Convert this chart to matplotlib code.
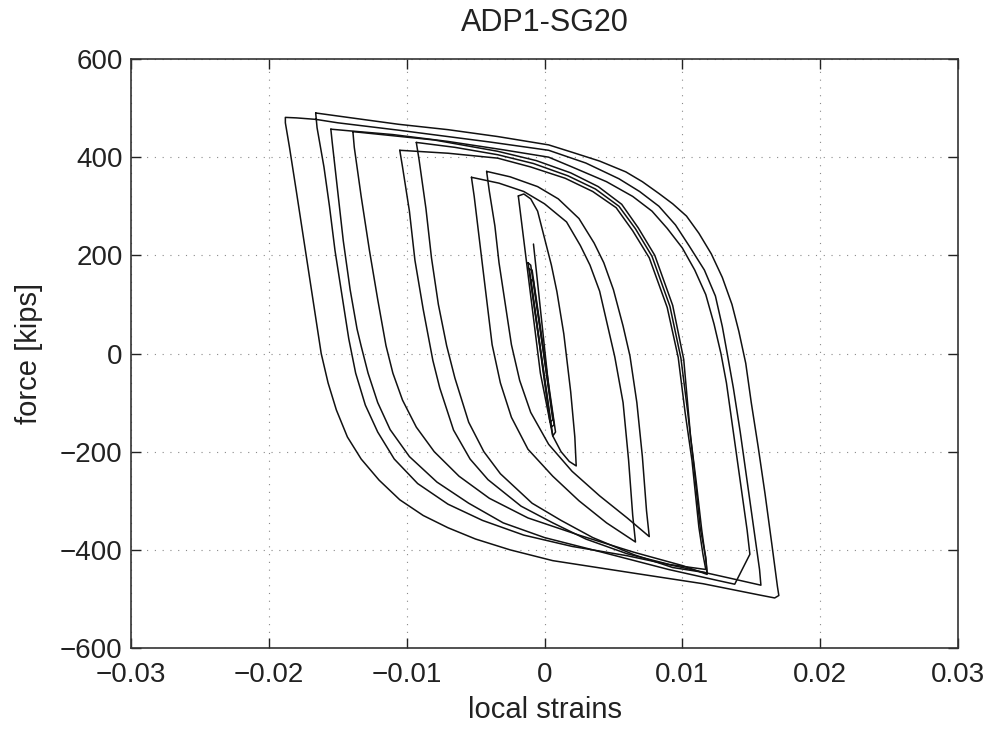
import matplotlib
matplotlib.use("Agg")
import matplotlib.pyplot as plt

plt.rcParams['font.family'] = ['Liberation Sans', 'DejaVu Sans']

title = "ADP1-SG20"
x_label = "local strains"
y_label = "force [kips]"
x_ticks = [-0.03, -0.02, -0.01, 0, 0.01, 0.02, 0.03]
x_tick_labels = ["\u22120.03", "\u22120.02", "\u22120.01", "0", "0.01", "0.02", "0.03"]
y_ticks = [-600, -400, -200, 0, 200, 400, 600]
y_tick_labels = ["\u2212600", "\u2212400", "\u2212200", "0", "200", "400", "600"]

# Largest two cycles as one continuous record: strain (x), force in kips (y)
cycle_ab_x = [
    -0.0166, -0.0165, -0.0160, -0.0156, -0.0152, -0.0147, -0.0142, -0.0137, -0.0130, -0.0121,
    -0.0109, -0.0092, -0.0070, -0.0045, -0.0015, 0.0020, 0.0060, 0.0100, 0.0135, 0.0157,
    0.0156, 0.0152, 0.0147, 0.0142, 0.0137, 0.0133, 0.0129, 0.0124, 0.0116, 0.0105,
    0.0095, 0.0083, 0.0069, 0.0054, 0.0030, 0.0003, -0.0040, -0.0106, -0.0150, -0.0166,
    -0.0180, -0.0188,
    -0.0188, -0.0185, -0.0180, -0.0174, -0.0168, -0.0162, -0.0157, -0.0151, -0.0143, -0.0133,
    -0.0120, -0.0105, -0.0088, -0.0070, -0.0050, -0.0025, 0.0006, 0.0066, 0.0115, 0.0156,
    0.0167, 0.0170,
    0.0169, 0.0165, 0.0160, 0.0155, 0.0150, 0.0146, 0.0141, 0.0136, 0.0129, 0.0121,
    0.0112, 0.0103, 0.0093, 0.0083, 0.0071, 0.0059, 0.0040, 0.0020, 0.0003, -0.0034,
    -0.0070, -0.0106, -0.0140, -0.0166,
]
cycle_ab_y = [
    490, 460, 380, 300, 210, 120, 30, -40, -105, -160,
    -215, -265, -307, -340, -370, -393, -412, -436, -458, -472,
    -440, -360, -260, -160, -70, -7, 55, 117, 170, 219,
    262, 300, 330, 356, 388, 414, 431, 455, 470, 477,
    480, 481,
    470, 420, 330, 220, 110, 0, -60, -115, -170, -215,
    -258, -298, -330, -355, -378, -400, -422, -448, -469, -492,
    -498, -493,
    -475, -390, -286, -190, -100, -20, 45, 100, 155, 203,
    245, 280, 305, 326, 350, 370, 392, 410, 425, 442,
    456, 467, 480, 490,
]

cycle_d_x = [
    -0.0155, -0.0154, -0.0150, -0.0146, -0.0141, -0.0136, -0.0133, -0.0128, -0.0121, -0.0112,
    -0.0098, -0.0078, -0.0055, -0.0030, 0.0000, 0.0042, 0.0090, 0.0125, 0.0138, 0.0149,
    0.0147, 0.0144, 0.0140, 0.0136, 0.0132, 0.0128, 0.0123, 0.0117, 0.0109, 0.0100,
    0.0089, 0.0078, 0.0064, 0.0045, 0.0020, 0.0003, -0.0030, -0.0070, -0.0110, -0.0139,
    -0.0155,
]
cycle_d_y = [
    457, 430, 330, 230, 130, 50, 15, -40, -100, -155,
    -210, -262, -305, -345, -375, -405, -440, -462, -470, -409,
    -360, -300, -220, -140, -60, 0, 60, 120, 170, 215,
    255, 290, 320, 350, 380, 400, 415, 432, 446, 453,
    457,
]

cycle_d2_x = [
    -0.0139, -0.0138, -0.0133, -0.0127, -0.0121, -0.0115, -0.0110, -0.0103, -0.0093, -0.0080,
    -0.0062, -0.0040, -0.0012, 0.0025, 0.0065, 0.0100, 0.0118,
    0.0117, 0.0114, 0.0110, 0.0106, 0.0101, 0.0093, 0.0080, 0.0068, 0.0056, 0.0039,
    0.0019, -0.0006, -0.0034, -0.0080, -0.0139,
]
cycle_d2_y = [
    452, 420, 320, 210, 110, 16, -40, -95, -150, -200,
    -250, -295, -335, -370, -405, -432, -450,
    -420, -358, -260, -170, -12, 98, 200, 256, 304, 340,
    368, 393, 412, 435, 452,
]

cycle_c1_x = [
    -0.0105, -0.0103, -0.0098, -0.0094, -0.0088, -0.0081, -0.0076, -0.0066, -0.0054, -0.0041,
    -0.0017, 0.0006, 0.0030, 0.0060, 0.0091, 0.0117,
    0.0115, 0.0112, 0.0107, 0.0102, 0.0097, 0.0089, 0.0076, 0.0064, 0.0052, 0.0035,
    0.0015, -0.0010, -0.0034, -0.0070, -0.0105,
]
cycle_c1_y = [
    414, 380, 290, 190, 90, -14, -70, -156, -215, -257,
    -311, -345, -378, -408, -430, -440,
    -410, -354, -218, -120, -8, 94, 195, 250, 297, 330,
    357, 380, 398, 408, 414,
]

cycle_c2_x = [
    -0.0093, -0.0091, -0.0086, -0.0082, -0.0077, -0.0071, -0.0065, -0.0055, -0.0044, -0.0032,
    -0.0009, 0.0012, 0.0035, 0.0065, 0.0093, 0.0118,
    0.0117, 0.0113, 0.0108, 0.0104, 0.0099, 0.0091, 0.0078, 0.0066, 0.0054, 0.0037,
    0.0017, -0.0008, -0.0034, -0.0065, -0.0093,
]
cycle_c2_y = [
    430, 395, 295, 195, 100, 16, -50, -140, -200, -245,
    -305, -340, -375, -410, -436, -447,
    -415, -356, -220, -122, -10, 96, 198, 254, 300, 335,
    362, 387, 405, 420, 430,
]

cycle_e1_x = [
    -0.0053, -0.0051, -0.0048, -0.0045, -0.0038, -0.0032, -0.0024, -0.0012, 0.0006, 0.0025,
    0.0045, 0.0066,
    0.0064, 0.0061, 0.0057, 0.0051, 0.0046, 0.0040, 0.0033, 0.0026, 0.0016, 0.0000,
    -0.0015, -0.0033, -0.0053,
]
cycle_e1_y = [
    359, 320, 250, 180, 18, -60, -130, -195, -250, -300,
    -345, -384,
    -330, -217, -100, -7, 54, 127, 180, 220, 268, 305,
    330, 347, 359,
]

cycle_e2_x = [
    -0.0042, -0.0040, -0.0036, -0.0033, -0.0024, -0.0018, -0.0010, 0.0003, 0.0020, 0.0040,
    0.0060, 0.0076,
    0.0074, 0.0071, 0.0067, 0.0062, 0.0057, 0.0050, 0.0043, 0.0036, 0.0025, 0.0010,
    -0.0005, -0.0025, -0.0042,
]
cycle_e2_y = [
    371, 330, 260, 185, 18, -55, -120, -185, -240, -290,
    -335, -373,
    -320, -210, -100, -5, 56, 130, 185, 225, 275, 315,
    340, 360, 371,
]

cycle_f_x = [
    -0.0019, -0.0015, -0.0010, -0.0005, 0.0000, 0.0005, 0.0009, 0.0014, 0.0019, 0.0022,
    0.0023, 0.0018, 0.0012, 0.0006, -0.0003, -0.0011, -0.0019,
]
cycle_f_y = [
    321, 325, 315, 290, 235, 180, 126, 40, -78, -170,
    -229, -220, -200, -168, -40, 140, 321,
]

# small elastic cycles around zero strain
cycle_g1_x = [-0.0011, 0.0006, 0.0008, -0.0009, -0.0011]
cycle_g1_y = [172, -168, -160, 170, 172]
cycle_g2_x = [-0.0012, 0.0005, 0.0007, -0.0010, -0.0012]
cycle_g2_y = [185, -150, -145, 180, 185]
cycle_g3_x = [-0.0010, 0.0004, 0.0006, -0.0008, -0.0010]
cycle_g3_y = [150, -140, -135, 148, 150]
branch_h_x = [-0.0008, 0.0003]
branch_h_y = [223, -67]

records = [
    (cycle_ab_x, cycle_ab_y), (cycle_d_x, cycle_d_y), (cycle_d2_x, cycle_d2_y),
    (cycle_c1_x, cycle_c1_y), (cycle_c2_x, cycle_c2_y), (cycle_e1_x, cycle_e1_y),
    (cycle_e2_x, cycle_e2_y), (cycle_f_x, cycle_f_y), (cycle_g1_x, cycle_g1_y),
    (cycle_g2_x, cycle_g2_y), (cycle_g3_x, cycle_g3_y), (branch_h_x, branch_h_y),
]

fig = plt.figure(figsize=(9.9, 7.3), dpi=100)
ax = fig.add_axes([0.1323, 0.1123, 0.8354, 0.8069])

for xs, ys in records:
    ax.plot(xs, ys, color="#111111", linewidth=1.1,
            solid_joinstyle="round", solid_capstyle="round")

ax.set_xlim(-0.03, 0.03)
ax.set_ylim(-600, 600)
ax.set_xticks(x_ticks)
ax.set_xticklabels(x_tick_labels)
ax.set_yticks(y_ticks)
ax.set_yticklabels(y_tick_labels)
ax.grid(True, linestyle=(0, (1, 6)), color="#8a8a8a", linewidth=0.8)
ax.tick_params(direction="in", length=7, width=1, top=True, right=True,
               labelsize=20, colors="#222222")
ax.tick_params(axis="x", pad=10)
ax.tick_params(axis="y", pad=6)
for side in ax.spines.values():
    side.set_linewidth(1.2)
    side.set_color("#333333")

ax.set_title(title, fontsize=22, color="#222222", pad=20)
ax.set_xlabel(x_label, fontsize=21, color="#222222", labelpad=6)
ax.set_ylabel(y_label, fontsize=21, color="#222222", labelpad=12)

fig.savefig("out.png", dpi=100)
